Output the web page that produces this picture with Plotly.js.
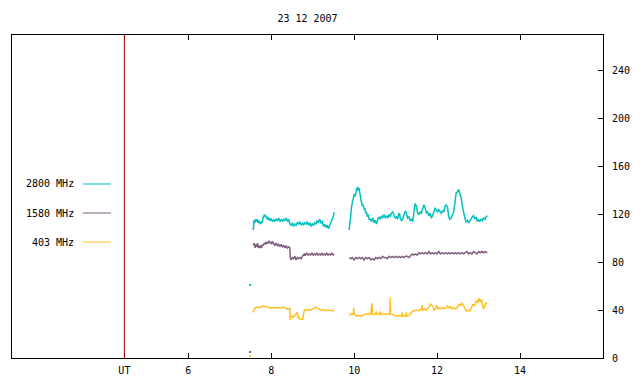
<!DOCTYPE html>
<html>
<head>
<meta charset="utf-8">
<script src="https://cdn.plot.ly/plotly-3.0.1.min.js"></script>
<style>html,body{margin:0;padding:0;background:#fff}#chart{width:640px;height:384px}</style>
</head>
<body>
<div id="chart"></div>
<script>
// ---- data (hours UT, solar flux units) ----
const title = "23 12 2007";
const seriesNames = ["2800 MHz", "1580 MHz", "403 MHz"];
const seriesColors = ["#00c0c0", "#806080", "#ffc020"];
const xTickVals = [4.46, 6, 8, 10, 12, 14];
const xTickText = ["UT", "6", "8", "10", "12", "14"];
const yTickVals = [0, 40, 80, 120, 160, 200, 240];
const utMarker = 4.46;

const t2800 = [7.57,7.58,7.60,7.62,7.64,7.66,7.68,7.70,7.72,7.74,7.76,7.78,7.80,7.82,7.84,7.86,7.88,7.90,7.92,7.94,7.96,7.98,8.00,8.03,8.06,8.09,8.12,8.15,8.18,8.21,8.24,8.27,8.30,8.33,8.36,8.39,8.42,8.45,8.48,8.51,8.54,8.57,8.60,8.63,8.66,8.69,8.72,8.75,8.78,8.81,8.84,8.87,8.90,8.93,8.96,8.99,9.02,9.05,9.08,9.11,9.14,9.17,9.20,9.23,9.26,9.29,9.32,9.35,9.38,9.41,9.44,9.47,9.50,9.52,
 9.70,
 9.88,9.90,9.92,9.94,9.96,9.98,10.00,10.02,10.04,10.06,10.08,10.10,10.12,10.14,10.16,10.18,10.20,10.22,10.24,10.26,10.28,10.30,10.32,10.34,10.36,
 10.39,10.42,10.45,10.48,10.51,10.54,10.57,10.60,10.63,10.66,10.69,10.72,10.75,10.78,10.81,10.84,10.87,10.90,10.93,10.96,10.99,11.02,11.05,11.07,11.09,11.11,11.14,11.17,11.20,11.23,11.26,11.29,11.32,11.35,11.38,11.41,11.44,11.47,11.50,11.53,11.56,11.59,11.62,11.65,11.68,11.71,11.74,11.77,11.80,11.83,11.86,11.89,11.92,11.95,11.98,12.01,12.04,12.07,12.10,12.13,12.16,12.19,12.22,12.25,12.28,12.31,12.34,12.37,12.40,12.43,12.46,12.49,12.52,12.55,12.58,12.61,12.64,12.67,12.70,12.73,12.76,12.79,12.82,12.85,12.88,12.91,12.94,12.97,13.00,13.03,13.06,13.09,13.12,13.15,13.18,13.21];
const v2800 = [107,115,113,116,114,116,113,115,113,112,114,113,117,119,120,118,119,116,118,115,117,115,116,114,116,114,116,115,117,114,116,114,116,115,117,114,116,112,111,113,110,112,111,113,112,114,111,113,111,113,112,114,111,113,110,112,111,113,112,115,113,116,113,114,110,112,109,111,108,111,113,116,119,122,
 null,
 107,112,120,127,131,135,137,135,139,141,143,140,142,136,133,130,127,128,124,125,121,122,118,120,116,
 116,114,117,113,115,112,116,118,116,119,117,120,117,119,117,120,118,121,122,119,117,118,116,120,121,117,115,116,121,123,121,117,118,115,116,114,122,129,127,121,120,122,121,126,128,126,121,122,119,121,117,119,123,125,124,122,124,122,121,123,122,127,128,126,118,116,117,120,122,130,138,139,141,137,134,127,121,117,114,115,113,115,116,118,119,116,118,114,116,114,116,115,117,116,118,119];

const t1580 = [7.57,7.59,7.61,7.63,7.65,7.67,7.69,7.71,7.73,7.75,7.77,7.79,7.81,7.83,7.85,7.87,7.89,7.91,7.93,7.95,7.97,7.99,8.01,8.03,8.06,8.09,8.12,8.15,8.18,8.21,8.24,8.27,8.30,8.33,8.36,8.39,8.42,8.45,8.46,8.48,8.51,8.54,8.57,8.60,8.63,8.66,8.69,8.72,8.75,8.78,8.80,8.83,8.86,8.89,8.92,8.95,8.98,9.01,9.04,9.07,9.10,9.13,9.16,9.19,9.22,9.25,9.28,9.31,9.34,9.37,9.40,9.43,9.46,9.49,9.52,
 9.70,
 9.88,9.92,9.96,10.00,10.04,10.08,10.12,10.16,10.20,10.24,10.28,10.32,10.36,10.40,10.44,10.48,10.52,10.56,10.60,10.64,10.68,10.72,10.76,10.80,10.84,10.88,10.92,10.96,11.00,11.04,11.08,11.12,11.16,11.20,11.24,11.28,11.32,11.36,11.40,11.44,11.48,11.52,11.56,11.60,11.64,11.68,11.72,11.76,11.80,11.84,11.88,11.92,11.96,12.00,12.04,12.08,12.12,12.16,12.20,12.24,12.28,12.32,12.36,12.40,12.44,12.48,12.52,12.56,12.60,12.64,12.68,12.72,12.76,12.80,12.84,12.88,12.92,12.96,13.00,13.04,13.08,13.12,13.16,13.21];
const v1580 = [94,96,92,95,93,96,92,94,92,94,92,95,94,96,95,97,95,97,96,98,96,97,95,97,96,94,96,94,95,93,95,93,94,92,94,92,93,92,84,82,84,83,85,82,84,83,84,83,85,86,87,86,88,86,87,86,88,86,87,86,88,86,87,86,88,86,87,86,88,86,87,86,88,86,87,
 null,
 84,83,84,82,84,83,84,83,84,82,84,83,84,82,83,82,84,83,84,83,85,84,84,83,85,84,85,84,85,84,85,84,85,84,85,85,84,86,87,86,87,86,88,87,88,87,88,87,89,87,88,87,88,87,89,87,88,87,88,87,88,87,88,87,88,87,88,87,88,87,88,89,87,88,87,89,88,87,89,88,89,88,89,88];

const t403 = [7.56,7.58,7.60,7.62,7.65,7.70,7.75,7.78,7.82,7.86,7.90,7.94,7.98,8.02,8.06,8.10,8.14,8.18,8.22,8.26,8.30,8.34,8.38,8.42,8.45,8.46,8.48,8.50,8.52,8.54,8.56,8.58,8.60,8.62,8.64,8.66,8.68,8.70,8.73,8.76,8.78,8.80,8.84,8.88,8.92,8.96,9.00,9.04,9.08,9.12,9.16,9.20,9.24,9.28,9.32,9.36,9.40,9.44,9.48,9.52,
 9.70,
 9.88,9.90,9.93,9.96,9.98,9.99,10.00,10.04,10.08,10.12,10.16,10.20,10.24,10.28,10.32,10.36,10.40,10.43,10.44,10.48,10.52,10.53,10.54,10.58,10.62,10.63,10.64,10.68,10.72,10.76,10.80,10.84,10.86,10.87,10.88,10.92,10.96,10.99,11.02,11.06,11.10,11.14,11.16,11.17,11.20,11.24,11.26,11.27,11.30,11.34,11.38,11.42,11.46,11.50,11.54,11.58,11.62,11.64,11.66,11.70,11.74,11.78,11.82,11.84,11.87,11.90,11.93,11.96,11.99,12.02,12.06,12.10,12.14,12.18,12.22,12.25,12.28,12.32,12.36,12.40,12.44,12.48,12.51,12.54,12.57,12.60,12.63,12.66,12.69,12.72,12.76,12.80,12.83,12.86,12.89,12.92,12.95,12.98,13.01,13.04,13.07,13.10,13.13,13.16,13.18,13.21];
const v403 = [38,40,41,42,42.5,42,42.5,43,43.5,43,43,42,42,41.5,42,41.5,41.5,42,41.5,42,42.5,41.5,41,41,41.5,32,35,34,35.5,34,35,36,37,38,36,33,34,32.5,32,32.5,37,40,40.5,40,40.5,40,41,42,42.5,41.5,41,40,40.5,40,39.5,40,40,39.5,40,39.5,
 null,
 35.5,36.5,37,36.5,37,42,36.5,35.5,35,35.5,35,35.5,36.5,37,36.5,37,36.5,46,37,36.5,37,39,36.5,37,36.5,39,37,36.5,37,36.5,37,36.5,37,50.5,37,36.5,36,35.5,35,35.5,35,35.5,38,35,35.5,35,38,35,35.5,36,38,39.5,39.5,40,39.5,40,40.5,44,40,41,40,41.5,43,45,44,43,40,41,44,41,42,41,42,41.5,42,43.5,42,43,41,42,41,42,44,45,43.5,46,44.5,42,40,39,40,39.5,42,45,43.5,46,48,46,50,47,49,43,41,45,46,45.5];

// isolated early samples near 7.5 h
const dotT = [7.49, 7.49, 7.49];
const dotV = [61, 5, 1.5];

const mono = "DejaVu Sans Mono, Liberation Mono, monospace";

const traces = [
  {x: t2800, y: v2800, mode: "lines", line: {color: seriesColors[0], width: 1.5}, connectgaps: false, name: seriesNames[0]},
  {x: t1580, y: v1580, mode: "lines", line: {color: seriesColors[1], width: 1.5}, connectgaps: false, name: seriesNames[1]},
  {x: t403, y: v403, mode: "lines", line: {color: seriesColors[2], width: 1.5}, connectgaps: false, name: seriesNames[2]},
  {x: dotT, y: dotV, mode: "markers", marker: {color: seriesColors, size: 2, symbol: "square"}, name: "dots"}
];

// legend drawn inside plot area (gnuplot style)
const legY = [0.5387, 0.4489, 0.3591];
const annotations = seriesNames.map((n, i) => ({
  text: n, xref: "paper", yref: "paper", x: 0.1083, y: legY[i],
  xanchor: "right", yanchor: "middle", showarrow: false,
  font: {family: mono, size: 10, color: "#000"}
}));
const shapes = seriesNames.map((n, i) => ({
  type: "line", xref: "paper", yref: "paper", x0: 0.120, x1: 0.1675, y0: legY[i], y1: legY[i],
  line: {color: seriesColors[i], width: 1}
}));
shapes.push({type: "line", xref: "x", yref: "paper", x0: utMarker, x1: utMarker, y0: 0, y1: 1,
  line: {color: "#b00000", width: 1}});

const layout = {
  width: 640, height: 384,
  margin: {l: 12, r: 37, t: 35, b: 26, pad: 0},
  paper_bgcolor: "#fff", plot_bgcolor: "#fff",
  showlegend: false,
  title: {text: title, x: 0.5, xref: "paper", y: 1 - 18/384, yref: "container", yanchor: "middle",
    font: {family: mono, size: 10, color: "#000"}},
  font: {family: mono, size: 10, color: "#000"},
  xaxis: {range: [1.75, 16], tickvals: xTickVals, ticktext: xTickText, ticks: "inside", ticklen: 5,
    tickcolor: "#000", showline: true, linecolor: "#000", linewidth: 1, mirror: "ticks",
    showgrid: false, zeroline: false, ticklabelstandoff: 3, tickfont: {family: mono, size: 10, color: "#000"}},
  yaxis: {range: [0, 270], side: "right", tickvals: yTickVals, ticks: "inside", ticklen: 5,
    tickcolor: "#000", showline: true, linecolor: "#000", linewidth: 1, mirror: true,
    showgrid: false, zeroline: false, ticklabelstandoff: 6, tickfont: {family: mono, size: 10, color: "#000"}},
  annotations: annotations,
  shapes: shapes
};

Plotly.newPlot("chart", traces, layout, {displayModeBar: false, staticPlot: true});
</script>
</body>
</html>
